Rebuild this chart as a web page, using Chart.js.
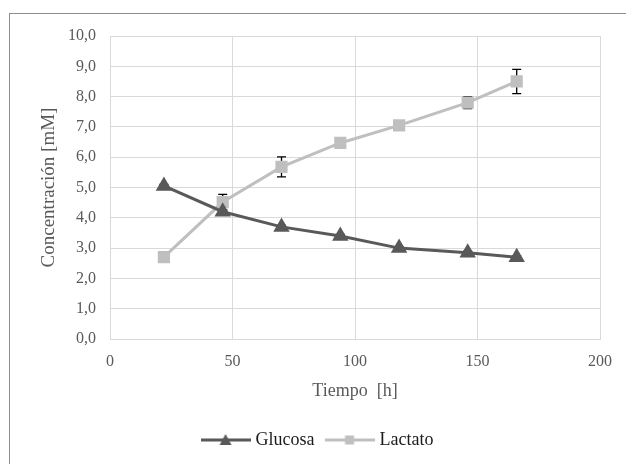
<!DOCTYPE html>
<html>
<head>
<meta charset="utf-8">
<script src="https://cdn.jsdelivr.net/npm/chart.js@4"></script>
<style>
  html, body { margin: 0; padding: 0; background: #fff; }
  #wrap { position: relative; width: 626px; height: 464px; overflow: hidden; }
  #frame { position: absolute; left: 9px; top: 13px; width: 700px; height: 600px; border: 1px solid #8c8c8c; box-sizing: border-box; }
  canvas { position: absolute; left: 0; top: 0; }
</style>
</head>
<body>
<div id="wrap">
  <div id="frame"></div>
  <canvas id="grafico" width="626" height="464"></canvas>
</div>
<script>
// tiempos de muestreo [h]
const tiempo = [22, 46, 70, 94, 118, 146, 166];
const glucosa = [5.05, 4.2, 3.7, 3.4, 3.0, 2.85, 2.7];
const lactato = [2.7, 4.52, 5.68, 6.47, 7.05, 7.8, 8.5];
// desviaciones (barras de error)
const errGlucosa = [0.05, 0.05, 0.05, 0.05, 0.05, 0.05, 0.05];
const errLactato = [0.05, 0.25, 0.33, 0.05, 0.05, 0.2, 0.4];
const ticksY = [0, 1, 2, 3, 4, 5, 6, 7, 8, 9, 10];
const ticksX = [0, 50, 100, 150, 200];

const colGlu = '#595959';
const colLac = '#bfbfbf';

// icono de leyenda: linea con marcador en el medio
function iconoLeyenda(color, forma) {
    const c = document.createElement('canvas');
    c.width = 50; c.height = 14;
    const g = c.getContext('2d');
    g.strokeStyle = color;
    g.lineWidth = 3;
    g.beginPath(); g.moveTo(0, 7); g.lineTo(50, 7); g.stroke();
    g.fillStyle = color;
    if (forma === 'triangle') {
        g.beginPath(); g.moveTo(25, 1); g.lineTo(31, 12); g.lineTo(19, 12); g.closePath(); g.fill();
    } else {
        g.fillRect(20.5, 2.5, 9, 9);
    }
    return c;
}

const barrasError = {
    id: 'barrasError',
    beforeDatasetsDraw(chart) {
        const ctx = chart.ctx;
        const xs = chart.scales.x, ys = chart.scales.y;
        const sets = [[glucosa, errGlucosa], [lactato, errLactato]];
        ctx.save();
        ctx.strokeStyle = '#000';
        ctx.lineWidth = 1.3;
        sets.forEach(function (s) {
            for (let i = 0; i < tiempo.length; i++) {
                const px = xs.getPixelForValue(tiempo[i]);
                const top = ys.getPixelForValue(s[0][i] + s[1][i]);
                const bot = ys.getPixelForValue(s[0][i] - s[1][i]);
                ctx.beginPath();
                ctx.moveTo(px, top); ctx.lineTo(px, bot);
                ctx.moveTo(px - 4.5, top); ctx.lineTo(px + 4.5, top);
                ctx.moveTo(px - 4.5, bot); ctx.lineTo(px + 4.5, bot);
                ctx.stroke();
            }
        });
        ctx.restore();
    }
};

const fuente = 'Liberation Serif';

new Chart(document.getElementById('grafico'), {
    type: 'scatter',
    data: {
        datasets: [{
            label: 'Glucosa',
            data: tiempo.map((t, i) => ({ x: t, y: glucosa[i] })),
            showLine: true,
            borderColor: colGlu,
            backgroundColor: colGlu,
            borderWidth: 3,
            pointStyle: 'triangle',
            pointRadius: 6.5,
            pointHoverRadius: 6.5,
            legendIcon: iconoLeyenda(colGlu, 'triangle')
        }, {
            label: 'Lactato',
            data: tiempo.map((t, i) => ({ x: t, y: lactato[i] })),
            showLine: true,
            borderColor: colLac,
            backgroundColor: colLac,
            borderWidth: 3,
            pointStyle: 'rect',
            pointRadius: 6.5,
            pointHoverRadius: 6.5,
            legendIcon: iconoLeyenda(colLac, 'rect')
        }]
    },
    options: {
        responsive: false,
        animation: false,
        layout: { padding: { left: 38, right: 26, top: 36, bottom: 5 } },
        plugins: {
            tooltip: { enabled: false },
            legend: {
                position: 'bottom',
                labels: {
                    usePointStyle: true,
                    pointStyleWidth: 42,
                    padding: 14,
                    color: '#1a1a1a',
                    font: { family: fuente, size: 18 },
                    generateLabels(chart) {
                        return chart.data.datasets.map((d, i) => ({
                            text: d.label,
                            pointStyle: d.legendIcon,
                            fillStyle: d.borderColor,
                            strokeStyle: d.borderColor,
                            lineWidth: 0,
                            datasetIndex: i,
                            fontColor: '#1a1a1a'
                        }));
                    }
                }
            }
        },
        scales: {
            x: {
                type: 'linear',
                min: 0, max: 200,
                afterBuildTicks(s) { s.ticks = ticksX.map(v => ({ value: v })); },
                afterFit(s) { s.height = 78; },
                grid: { color: '#d9d9d9', lineWidth: 1, drawTicks: false },
                border: { color: '#d9d9d9' },
                ticks: { color: '#595959', padding: 13, font: { family: fuente, size: 16 } },
                title: { display: true, text: 'Tiempo  [h]', color: '#595959', font: { family: fuente, size: 18 }, padding: { top: 6, bottom: 15 } }
            },
            y: {
                min: 0, max: 10,
                afterBuildTicks(s) { s.ticks = ticksY.map(v => ({ value: v })); },
                afterFit(s) { s.width = 72; },
                grid: { color: '#d9d9d9', lineWidth: 1, drawTicks: false },
                border: { color: '#d9d9d9' },
                ticks: {
                    color: '#595959', padding: 14,
                    font: { family: fuente, size: 16 },
                    callback: v => v.toFixed(1).replace('.', ',')
                },
                title: { display: true, text: 'Concentración [mM]', color: '#595959', font: { family: fuente, size: 19 }, padding: { top: 0 } }
            }
        }
    },
    plugins: [barrasError]
});
</script>
</body>
</html>
